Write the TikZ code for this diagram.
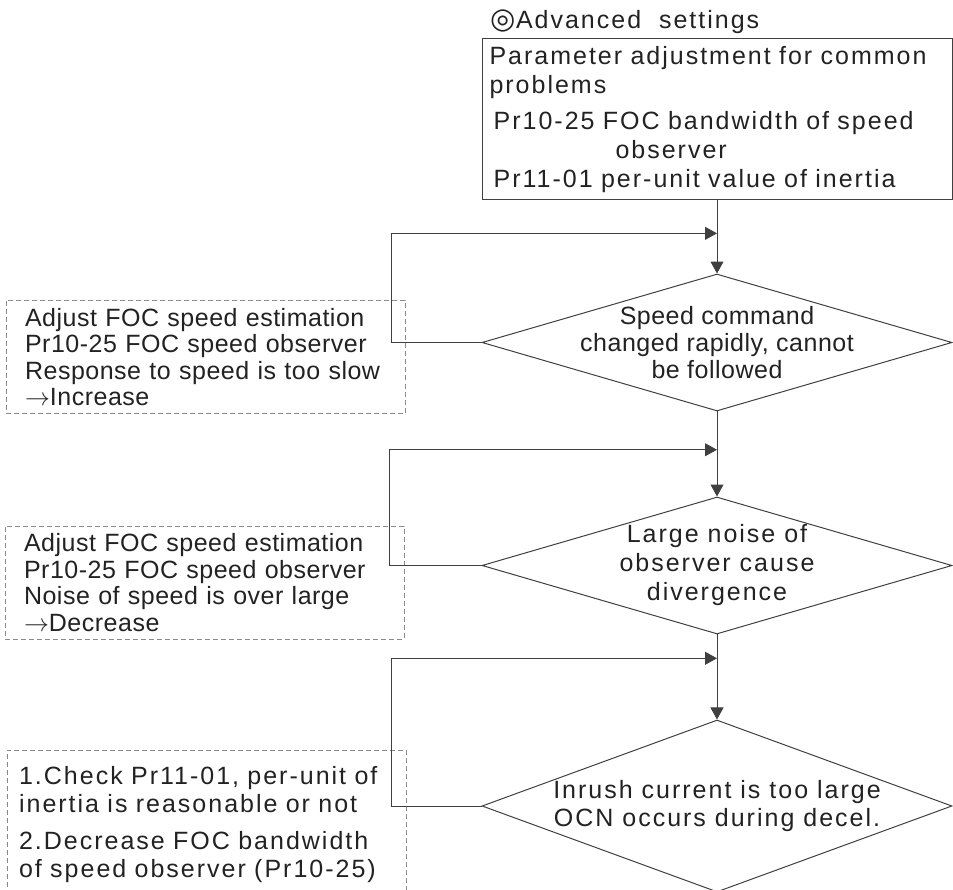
\documentclass[tikz,border=0pt]{standalone}
\usepackage{fontspec}
\setmainfont{Liberation Sans}[LetterSpace=2]
\newfontfamily\widefont{Liberation Sans}[LetterSpace=8]
\newfontfamily\symbolfont{DejaVu Sans}
\usepackage{xcolor}
\usepackage{tikz}
\usetikzlibrary{shapes.geometric, arrows.meta, positioning, calc}
\definecolor{inkgray}{HTML}{222222}
\definecolor{linegray}{HTML}{404040}
\definecolor{notegray}{HTML}{8A8A8A}
\newcommand{\toarrow}{$\rightarrow$}
\tikzset{
  parambox/.style={rectangle, draw=linegray, line width=1pt, minimum width=470pt,
    minimum height=161pt, text width=455pt, inner xsep=7.5pt, inner ysep=3pt,
    align=left, text=inkgray, font=\widefont\fontsize{25}{29}\selectfont},
  decision/.style={diamond, draw=linegray, line width=1pt, aspect=3.4,
    minimum width=470pt, minimum height=137pt, inner xsep=-60pt, inner ysep=-20pt,
    align=center, text=inkgray, font=\widefont\fontsize{25}{29}\selectfont},
  note/.style={rectangle, draw=notegray, dash pattern=on 5pt off 3pt, line width=0.9pt,
    minimum width=399pt, text width=361pt, inner xsep=19pt, inner ysep=2pt,
    align=left, text=inkgray, font=\fontsize{25}{26.5}\selectfont},
  arrow/.style={-{Triangle[length=12pt,width=13pt]}, line width=1pt, draw=linegray}
}
\begin{document}
\begin{tikzpicture}[x=1pt, y=-1pt]
\useasboundingbox (0,0) rectangle (953,890);

\node (param)  [parambox] at (717,119.5) {Parameter adjustment for common\\
  problems\\[7pt]
  \,Pr10-25 FOC bandwidth of speed\\
  \hspace*{126pt}observer\\
  \,Pr11-01 per-unit value of inertia};
\node (title)  [anchor=base west, inner sep=0pt, text=inkgray,
  font=\widefont\fontsize{25}{29}\selectfont]
  at ($(param.north west)+(9,-10)$)
  {{\symbolfont\fontsize{29}{29}\selectfont ◎}Advanced\ \ settings};

\node (speed)  [decision, below=73pt of param, font=\fontsize{25}{27}\selectfont]
  {Speed command\\changed rapidly, cannot\\be followed};
\node (noise)  [decision, below=85pt of speed] {Large noise of\\observer cause\\divergence};
\node (inrush) [decision, below=85pt of noise, minimum height=172pt,
  font=\widefont\fontsize{25}{28}\selectfont]
  {Inrush current is too large\\OCN occurs during decel.};

\node (tip1) [note, left=76pt of speed, yshift=-14.5pt, minimum height=113pt]
  {Adjust FOC speed estimation\\Pr10-25 FOC speed observer\\
   Response to speed is too slow\\\toarrow Increase};
\node (tip2) [note, left=77pt of noise, yshift=-17pt, minimum height=113pt]
  {Adjust FOC speed estimation\\Pr10-25 FOC speed observer\\
   Noise of speed is over large\\\toarrow Decrease};
\node (tip3) [note, left=75pt of inrush, yshift=-19pt, minimum height=150pt,
  text width=375pt, inner xsep=12pt, font=\widefont\fontsize{25}{28}\selectfont]
  {1.Check Pr11-01, per-unit of\\inertia is reasonable or not\\[9pt]
   2.Decrease FOC bandwidth\\of speed observer (Pr10-25)};

\coordinate (j1) at ($(param.south)!0.45!(speed.north)$);
\coordinate (j2) at ($(speed.south)!0.45!(noise.north)$);
\coordinate (j3) at ($(noise.south)!0.28!(inrush.north)$);

\draw [arrow] (param) -- (speed);
\draw [arrow] (speed) -- (noise);
\draw [arrow] (noise) -- (inrush);
\draw [arrow] (speed.west)  -- ++(-90,0) |- (j1);
\draw [arrow] (noise.west)  -- ++(-92,0) |- (j2);
\draw [arrow] (inrush.west) -- ++(-90,0) |- (j3);
\end{tikzpicture}
\end{document}
